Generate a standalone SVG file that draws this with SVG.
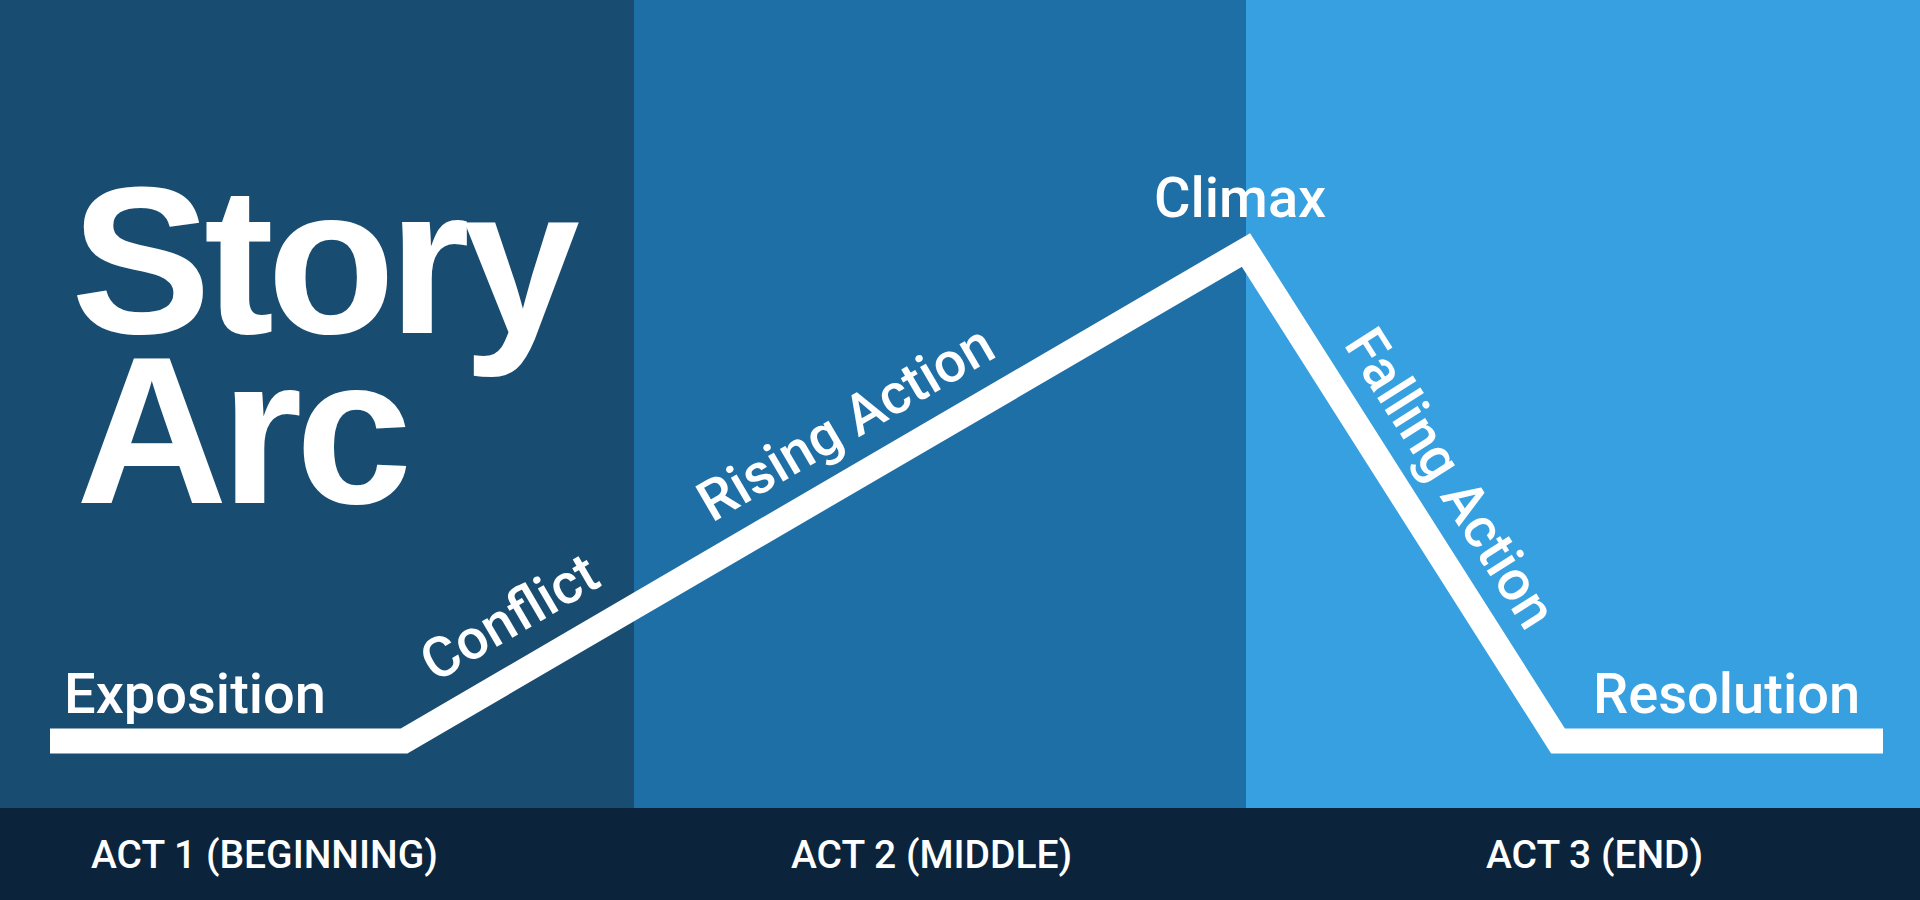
<svg xmlns="http://www.w3.org/2000/svg" width="1920" height="900" viewBox="0 0 1920 900">
  <style>
    .lbl { font-family: Roboto, "Liberation Sans", sans-serif; font-weight: 500; font-size: 56px; fill: #ffffff; }
    .act { font-family: Roboto, "Liberation Sans", sans-serif; font-weight: 500; font-size: 39px; fill: #ffffff; }
    .title { font-family: "Liberation Sans", Arial, sans-serif; font-weight: 700; font-size: 210px; letter-spacing: -7px; fill: #ffffff; }
    .arc { fill: none; stroke: #ffffff; stroke-width: 25; stroke-linejoin: miter; stroke-linecap: butt; stroke-miterlimit: 10; }
  </style>
  <g id="background">
    <rect x="0" y="0" width="634" height="808" fill="#184c70"/>
    <rect x="634" y="0" width="612" height="808" fill="#1f6fa7"/>
    <rect x="1246" y="0" width="674" height="808" fill="#37a0e0"/>
    <rect x="0" y="808" width="1920" height="92" fill="#0b243b"/>
  </g>
  <g id="title">
    <text class="title" x="71" y="333">Story</text>
    <text class="title" x="76" y="503">Arc</text>
  </g>
  <g id="connectors">
    <path class="arc" d="M50,741 L404,741 L1246,250 L1558,741 L1883,741"/>
  </g>
  <g id="exposition"><text class="lbl" x="64" y="713">Exposition</text></g>
  <g id="conflict"><text class="lbl" transform="translate(435,683) rotate(-30.3)">Conflict</text></g>
  <g id="rising-action"><text class="lbl" transform="translate(712,523) rotate(-30.3)">Rising Action</text></g>
  <g id="climax"><text class="lbl" x="1154" y="217">Climax</text></g>
  <g id="falling-action"><text class="lbl" transform="translate(1343,344) rotate(57.6)">Falling Action</text></g>
  <g id="resolution"><text class="lbl" x="1593" y="713">Resolution</text></g>
  <g id="act1"><text class="act" x="91" y="868">ACT 1 (BEGINNING)</text></g>
  <g id="act2"><text class="act" x="791" y="868">ACT 2 (MIDDLE)</text></g>
  <g id="act3"><text class="act" x="1486" y="868">ACT 3 (END)</text></g>
</svg>
